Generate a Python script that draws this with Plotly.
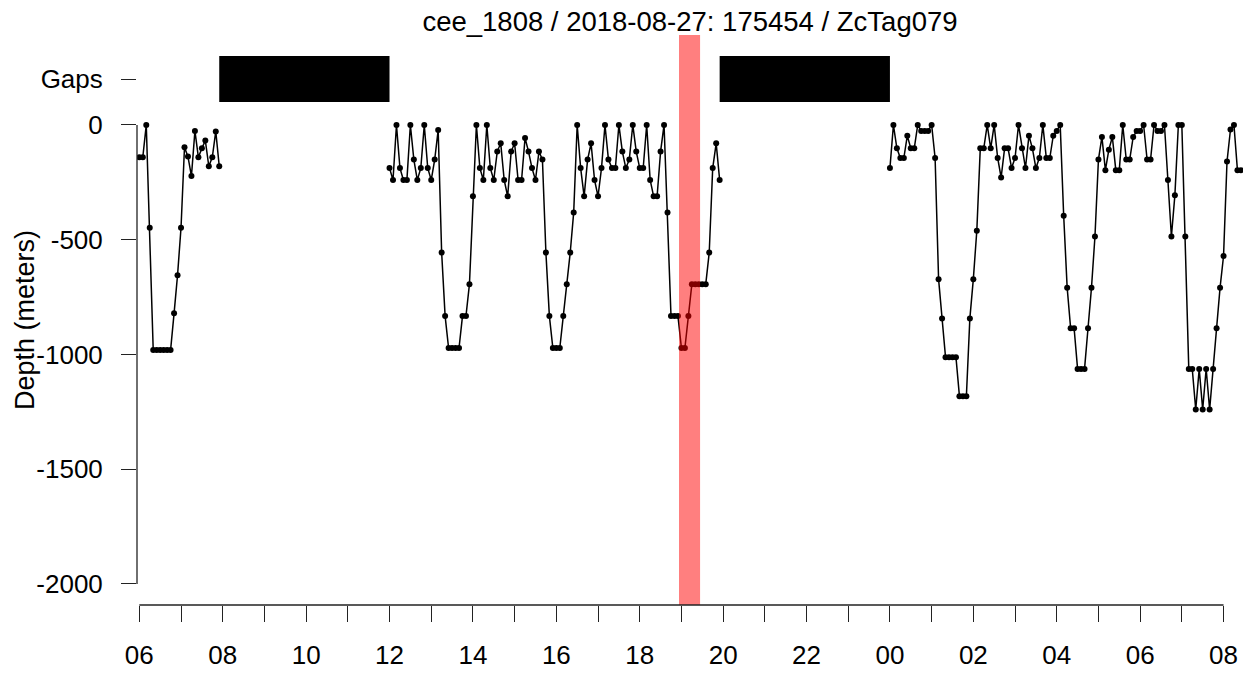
"""
Dive profile of ZcTag079 (cee_1808), depth against time of day,
with gaps in the record and the exposure window highlighted.
"""

import pandas as pd
import plotly.graph_objects as go

TITLE = "cee_1808 / 2018-08-27: 175454 / ZcTag079"
SAMPLE_STEP = "5min"

# one record per 5-minute slot, split into the three continuous segments
seg_starts = ["2018-08-27 06:00", "2018-08-27 12:00", "2018-08-28 00:00"]

depth_seg1 = [
    -141, -141, 0, -448, -981, -981, -981, -981, -981, -981, -821, -655,
    -448, -97, -138, -223, -26, -141, -102, -68, -180, -141, -28, -180,
]

depth_seg2 = [
    -188, -240, 0, -188, -240, -240, 0, -151, -240, -188, 0, -188,
    -240, -151, -22, -556, -833, -972, -972, -972, -972, -833, -833, -694,
    -311, 0, -188, -240, 0, -188, -240, -116, -80, -240, -311, -116,
    -80, -240, -240, -57, -116, -188, -240, -116, -151, -556, -833, -972,
    -972, -972, -833, -694, -556, -381, 0, -188, -311, -151, -80, -240,
    -311, -188, 0, -151, -188, -188, 0, -116, -188, -151, 0, -116,
    -188, -188, 0, -240, -311, -311, -116, 0, -381, -833, -833, -833,
    -972, -972, -833, -694, -694, -694, -694, -694, -556, -188, -80, -240,
]

depth_seg3 = [
    -188, 0, -102, -144, -144, -47, -102, -102, 0, -26, -26, -26,
    0, -144, -672, -843, -1012, -1012, -1012, -1012, -1182, -1182, -1182, -843,
    -672, -461, -102, -102, 0, -102, 0, -144, -229, -102, -102, -188,
    -144, 0, -102, -188, -47, -102, -188, -144, 0, -144, -144, -47,
    -26, 0, -396, -709, -886, -886, -1063, -1063, -1063, -886, -709, -486,
    -151, -52, -197, -108, -52, -197, -197, 0, -151, -151, -52, -26,
    -26, 0, -151, -151, 0, -26, -26, 0, -240, -486, -306, 0,
    0, -486, -1063, -1063, -1240, -1063, -1240, -1063, -1240, -1063, -886, -709,
    -571, -159, -20, 0, -197, -197,
]

# periods with no data
gap_start = ["2018-08-27 07:55", "2018-08-27 19:55"]
gap_end = ["2018-08-27 12:00", "2018-08-28 00:00"]

# highlighted exposure window
band_start = "2018-08-27 18:56:30"
band_end = "2018-08-27 19:26:50"

y_tickvals = [200, 0, -500, -1000, -1500, -2000]
y_ticktext = ["Gaps", "0", "-500", "-1000", "-1500", "-2000"]

FONT = "Liberation Sans, Arial, sans-serif"
AXIS_COL = "#222222"

W, H = 1249, 675

fig = go.Figure()

for start, depths in zip(seg_starts, [depth_seg1, depth_seg2, depth_seg3]):
    times = pd.date_range(start, periods=len(depths), freq=SAMPLE_STEP)
    fig.add_trace(go.Scatter(
        x=times, y=depths,
        mode="lines+markers",
        line=dict(color="black", width=1.5),
        marker=dict(color="black", size=6),
        showlegend=False,
        hoverinfo="x+y",
    ))

shapes = []
for g0, g1 in zip(gap_start, gap_end):
    shapes.append(dict(type="rect", xref="x", yref="y",
                       x0=g0, x1=g1, y0=100, y1=300,
                       fillcolor="black", line=dict(width=0), layer="above"))

shapes.append(dict(type="rect", xref="x", yref="paper",
                   x0=band_start, x1=band_end, y0=0, y1=1,
                   fillcolor="rgba(255,0,0,0.5)", line=dict(width=0),
                   layer="above"))

# R-style axis lines that only span the tick range
shapes.append(dict(type="line", xref="x", yref="paper",
                   x0="2018-08-27 06:00", x1="2018-08-28 08:00", y0=0, y1=0,
                   line=dict(color=AXIS_COL, width=1.3)))
shapes.append(dict(type="line", xref="paper", yref="y",
                   x0=0, x1=0, y0=-2000, y1=0,
                   line=dict(color=AXIS_COL, width=1.3)))

fig.update_layout(
    width=W, height=H,
    margin=dict(l=137, r=6, t=35, b=70),
    paper_bgcolor="white", plot_bgcolor="white",
    font=dict(family=FONT, size=26, color="black"),
    title=dict(text=TITLE, x=0.5, xref="paper", xanchor="center",
               y=1 - 21 / H, yref="container", yanchor="middle",
               font=dict(size=27.5, color="black")),
    shapes=shapes,
    annotations=[dict(text="Depth (meters)", textangle=-90,
                      xref="paper", yref="paper", x=0, y=0.5,
                      xanchor="center", yanchor="middle", xshift=-112,
                      showarrow=False, font=dict(size=27, color="black"))],
)

fig.update_xaxes(
    type="date",
    range=["2018-08-27 05:56:40", "2018-08-28 08:28:00"],
    tick0="2018-08-27 06:00", dtick=7200000, tickformat="%H",
    ticks="outside", ticklen=16, tickwidth=1.3, tickcolor=AXIS_COL,
    minor=dict(tick0="2018-08-27 06:00", dtick=3600000, ticks="outside",
               ticklen=16, tickwidth=1.3, tickcolor=AXIS_COL, showgrid=False),
    ticklabelstandoff=11,
    showgrid=False, zeroline=False, showline=False,
    tickfont=dict(size=26, color="black"),
)

fig.update_yaxes(
    range=[-2092, 392],
    tickvals=y_tickvals, ticktext=y_ticktext,
    ticks="outside", ticklen=15, tickwidth=1.3, tickcolor=AXIS_COL,
    ticklabelstandoff=13,
    showgrid=False, zeroline=False, showline=False,
    tickfont=dict(size=26, color="black"),
)

# drop the browser's default body margin so the figure sits at the page corner
fig.write_html("out.html", config={"displayModeBar": False},
               post_script="document.body.style.margin = '0';")
